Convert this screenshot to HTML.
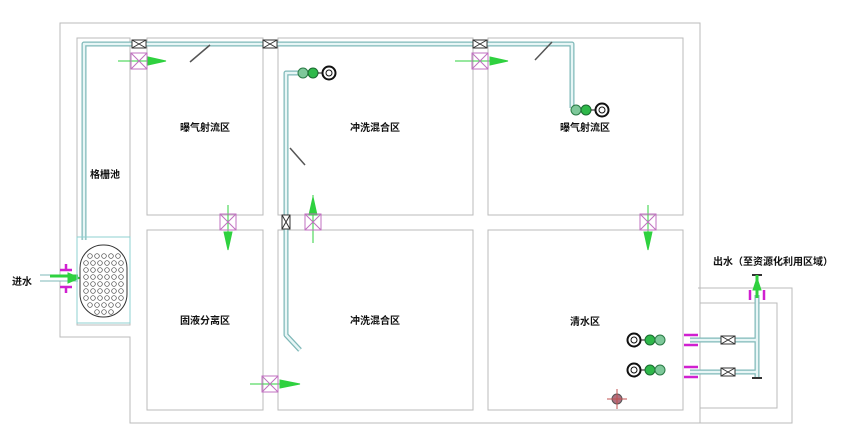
<!DOCTYPE html>
<html><head><meta charset="utf-8"><style>
html,body{margin:0;padding:0;background:#fff;}
svg{display:block}
text{font-family:"Liberation Sans","Noto Sans CJK SC",sans-serif;font-size:10px;font-weight:bold;fill:#111}
</style></head><body>
<svg width="850" height="435" viewBox="0 0 850 435" xmlns="http://www.w3.org/2000/svg">
<defs>
<g id="vx"><rect x="-8" y="-8" width="16" height="16" fill="none" stroke="#c070c0" stroke-width="1"/><path d="M-8-8L8 8M8-8L-8 8" stroke="#c070c0" stroke-width="1"/></g>
<g id="sv"><rect x="-7" y="-4" width="14" height="8" fill="#fff" stroke="#333"/><path d="M-7-4L7 4M7-4L-7 4" stroke="#333"/></g>
<g id="pump"><circle cx="0" cy="0" r="5" fill="#7ec89a" stroke="#2a7a45"/><circle cx="10" cy="0" r="5" fill="#2fb84a" stroke="#1a6a30"/><line x1="15" y1="0" x2="20" y2="0" stroke="#111"/><circle cx="26" cy="0" r="6.5" fill="#fff" stroke="#111" stroke-width="2"/><circle cx="26" cy="0" r="3" fill="none" stroke="#111"/></g>
<g id="pumpL"><circle cx="0" cy="0" r="6.5" fill="#fff" stroke="#111" stroke-width="2"/><circle cx="0" cy="0" r="3" fill="none" stroke="#111"/><line x1="6" y1="0" x2="11" y2="0" stroke="#111"/><circle cx="16" cy="0" r="5" fill="#2fb84a" stroke="#1a6a30"/><circle cx="26" cy="0" r="5" fill="#7ec89a" stroke="#2a7a45"/></g>
</defs>
<g fill="none" stroke="#bbb" stroke-width="1">
<path d="M60 23H700V423H130V337H60Z"/>
<path d="M698 288H792V423H698"/>
<path d="M700 303H777V408H700"/>
<rect x="77" y="38" width="53" height="287"/>
<rect x="147" y="38" width="116" height="177"/>
<rect x="278" y="38" width="195" height="177"/>
<rect x="488" y="38" width="195" height="177"/>
<rect x="147" y="230" width="116" height="180"/>
<rect x="278" y="230" width="195" height="180"/>
<rect x="488" y="230" width="195" height="180"/>
</g>
<!-- pipes -->
<g fill="none" stroke-linejoin="round">
<path d="M84 240V44H572V108" stroke="#7fb8b8" stroke-width="5"/>
<path d="M84 240V44H572V108" stroke="#e8f6f6" stroke-width="2.5"/>
<path d="M299 73H286V335L300 350" stroke="#7fb8b8" stroke-width="5"/>
<path d="M299 73H286V335L300 350" stroke="#e8f6f6" stroke-width="2.5"/>
<path d="M690 340H757M690 372H757M757 295V378" stroke="#7fb8b8" stroke-width="5"/>
<path d="M690 340H757M690 372H757M757 295V378" stroke="#e8f6f6" stroke-width="2.5"/>
<path d="M40 278H78" stroke="#7fb8b8" stroke-width="7"/>
<path d="M40 278H78" stroke="#fff" stroke-width="5"/>
</g>
<path d="M752 378H762M752 275H762" stroke="#333" stroke-width="2"/>
<g stroke="#555" stroke-width="1.5"><path d="M190 62L210 45M290 148L305 165M535 60L552 42"/></g>
<!-- small valves on pipe -->
<use href="#sv" x="139" y="44"/><use href="#sv" x="270" y="44"/><use href="#sv" x="480" y="44"/>
<g transform="translate(286 222) rotate(90)"><use href="#sv"/></g>
<use href="#sv" x="728" y="340"/><use href="#sv" x="728" y="372"/>
<!-- gate valves + arrows -->
<g stroke="#2fd13f" fill="#2fd13f">
<line x1="118" y1="61" x2="165" y2="61"/><path d="M148 57L166 61L148 65Z"/>
<line x1="455" y1="61" x2="505" y2="61"/><path d="M490 57L508 61L490 65Z"/>
<line x1="228" y1="205" x2="228" y2="250"/><path d="M224 232L228 250L232 232Z"/>
<line x1="313" y1="195" x2="313" y2="243"/><path d="M309 215L313 197L317 215Z"/>
<line x1="648" y1="205" x2="648" y2="250"/><path d="M644 232L648 250L652 232Z"/>
<line x1="250" y1="384" x2="300" y2="384"/><path d="M280 380L300 384L280 388Z"/>
<path d="M50 276H78" stroke-width="3"/><path d="M68 273L80 278L68 283Z"/>
<path d="M757 275V298" stroke-width="3"/><path d="M753 290L757 278L761 290Z"/>
</g>
<use href="#vx" x="139" y="61"/><use href="#vx" x="480" y="61"/>
<use href="#vx" x="228" y="222"/><use href="#vx" x="313" y="222"/><use href="#vx" x="648" y="222"/>
<use href="#vx" x="270" y="384"/>
<!-- flanges magenta -->
<g stroke="#d020d0" stroke-width="2.5" fill="none">
<path d="M60 270H72M66 264V270M60 287H72M66 287V293"/>
<path d="M684 335H698M684 345H698M684 367H698M684 377H698"/>
<path d="M750 290V300M764 290V300"/>
</g>
<!-- grating -->
<rect x="77" y="237" width="53" height="86" fill="none" stroke="#8fd0d0"/>
<rect x="80" y="245" width="47" height="72" rx="23" fill="#fff" stroke="#333"/>
<g fill="none" stroke="#444" stroke-width="0.7">
<circle cx="90" cy="256" r="2.3"/><circle cx="97" cy="256" r="2.3"/><circle cx="104" cy="256" r="2.3"/><circle cx="111" cy="256" r="2.3"/><circle cx="118" cy="256" r="2.3"/>
<circle cx="86" cy="263" r="2.3"/><circle cx="93" cy="263" r="2.3"/><circle cx="100" cy="263" r="2.3"/><circle cx="107" cy="263" r="2.3"/><circle cx="114" cy="263" r="2.3"/><circle cx="121" cy="263" r="2.3"/>
<circle cx="86" cy="270" r="2.3"/><circle cx="93" cy="270" r="2.3"/><circle cx="100" cy="270" r="2.3"/><circle cx="107" cy="270" r="2.3"/><circle cx="114" cy="270" r="2.3"/><circle cx="121" cy="270" r="2.3"/>
<circle cx="86" cy="277" r="2.3"/><circle cx="93" cy="277" r="2.3"/><circle cx="100" cy="277" r="2.3"/><circle cx="107" cy="277" r="2.3"/><circle cx="114" cy="277" r="2.3"/><circle cx="121" cy="277" r="2.3"/>
<circle cx="86" cy="284" r="2.3"/><circle cx="93" cy="284" r="2.3"/><circle cx="100" cy="284" r="2.3"/><circle cx="107" cy="284" r="2.3"/><circle cx="114" cy="284" r="2.3"/><circle cx="121" cy="284" r="2.3"/>
<circle cx="86" cy="291" r="2.3"/><circle cx="93" cy="291" r="2.3"/><circle cx="100" cy="291" r="2.3"/><circle cx="107" cy="291" r="2.3"/><circle cx="114" cy="291" r="2.3"/><circle cx="121" cy="291" r="2.3"/>
<circle cx="86" cy="298" r="2.3"/><circle cx="93" cy="298" r="2.3"/><circle cx="100" cy="298" r="2.3"/><circle cx="107" cy="298" r="2.3"/><circle cx="114" cy="298" r="2.3"/><circle cx="121" cy="298" r="2.3"/>
<circle cx="90" cy="305" r="2.3"/><circle cx="97" cy="305" r="2.3"/><circle cx="104" cy="305" r="2.3"/><circle cx="111" cy="305" r="2.3"/><circle cx="118" cy="305" r="2.3"/>
<circle cx="97" cy="312" r="2.3"/><circle cx="104" cy="312" r="2.3"/><circle cx="111" cy="312" r="2.3"/>
</g>
<!-- pumps -->
<use href="#pump" x="303" y="73"/>
<use href="#pump" x="576" y="110"/>
<use href="#pumpL" x="634" y="340"/>
<use href="#pumpL" x="634" y="370"/>
<circle cx="617" cy="399" r="5" fill="#b07080" stroke="#555"/><path d="M607 399H627M617 389V409" stroke="#c05050"/>
<!-- labels -->
<text x="205" y="131" text-anchor="middle">曝气射流区</text>
<text x="375" y="131" text-anchor="middle">冲洗混合区</text>
<text x="585" y="131" text-anchor="middle">曝气射流区</text>
<text x="105" y="178" text-anchor="middle">格栅池</text>
<text x="205" y="324" text-anchor="middle">固液分离区</text>
<text x="375" y="324" text-anchor="middle">冲洗混合区</text>
<text x="585" y="325" text-anchor="middle">清水区</text>
<text x="22" y="285" text-anchor="middle">进水</text>
<text x="773" y="265" text-anchor="middle">出水（至资源化利用区域）</text>
</svg>
</body></html>
